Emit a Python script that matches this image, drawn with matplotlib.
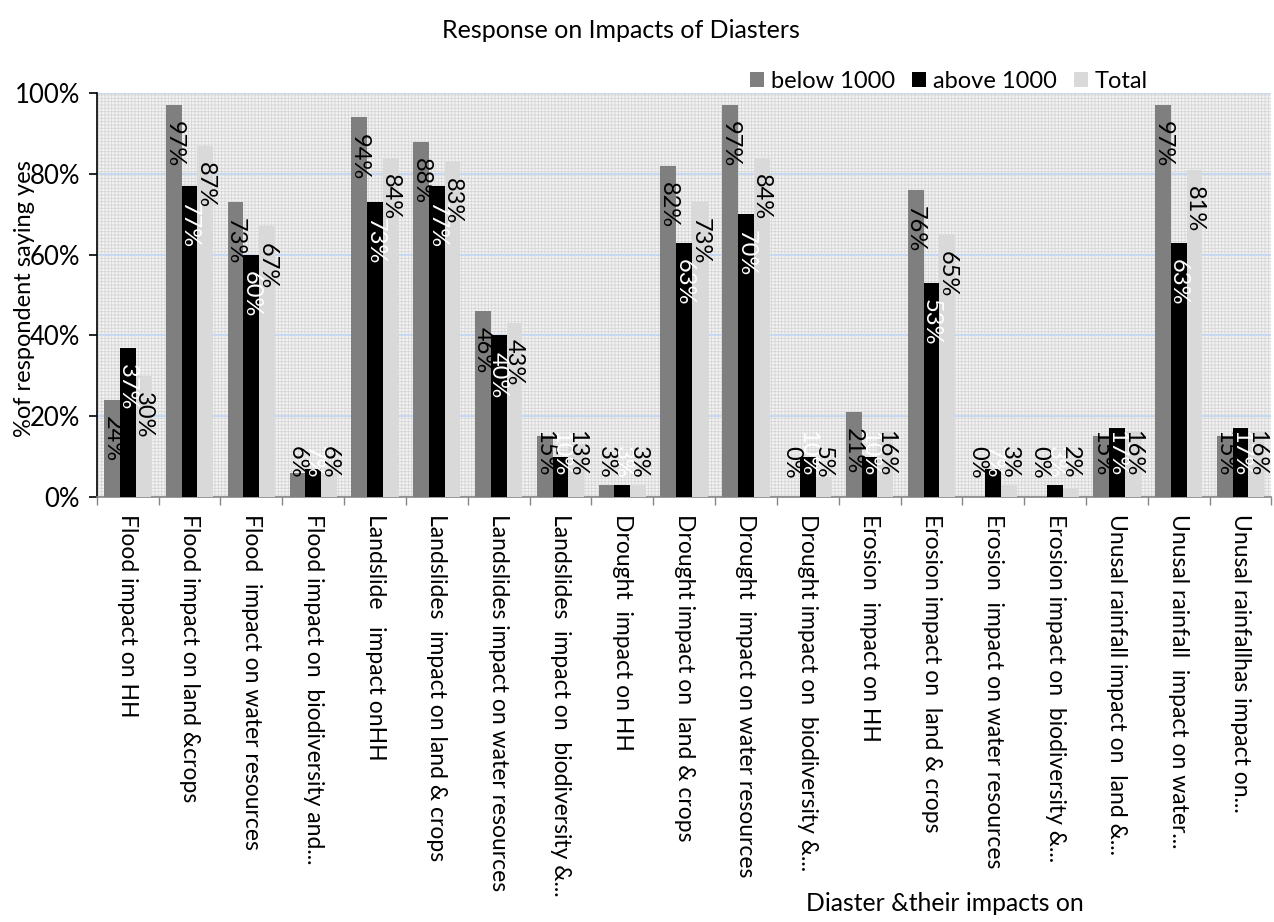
import numpy as np
import matplotlib
matplotlib.use('Agg')
import matplotlib.pyplot as plt
from matplotlib.patches import Rectangle, Patch

plt.rcParams['font.family'] = ['Lato', 'DejaVu Sans']
plt.rcParams['hatch.linewidth'] = 0.6
plt.rcParams['hatch.color'] = '#d4d4d4'

categories = ['Flood impact on HH', 'Flood impact on land &crops', 'Flood  impact on water resources',
              'Flood impact on  biodiversity and...', 'Landslide   impact onHH',
              'Landslides  impact on land & crops', 'Landslides impact on water resources',
              'Landslides  impact on  biodiversity &...', 'Drought  impact on HH',
              'Drought impact on  land & crops', 'Drought  impact on water resources',
              'Drought impact on  biodiversity &...', 'Erosion  impact on HH',
              'Erosion impact on  land & crops', 'Erosion  impact on water resources',
              'Erosion impact on  biodiversity &...', 'Unusal rainfall impact on  land &...',
              'Unusal rainfall  impact on water...', 'Unusal rainfallhas impact on...']
series_names = ['below 1000', 'above 1000', 'Total']
below = [24, 97, 73, 6, 94, 88, 46, 15, 3, 82, 97, 0, 21, 76, 0, 0, 15, 97, 15]
above = [37, 77, 60, 7, 73, 77, 40, 10, 3, 63, 70, 10, 10, 53, 7, 3, 17, 63, 17]
total = [30, 87, 67, 6, 84, 83, 43, 13, 3, 73, 84, 5, 16, 65, 3, 2, 16, 81, 16]

colors = ['#7f7f7f', '#000000', '#d9d9d9']
text_colors = ['black', 'white', 'black']

fig = plt.figure(figsize=(12.74, 9.22), dpi=100)
ax = fig.add_axes([0.076, 0.461, 0.922, 0.438])

# dotted plot-area background
ax.add_patch(Rectangle((0, 0), 1, 1, transform=ax.transAxes, facecolor='#f3f3f3',
                       hatch='+++++', edgecolor='#d6d6d6', lw=0, zorder=0))
ax.set_facecolor('none')

x = np.arange(len(categories))
w = 0.255
for j, vals in enumerate([below, above, total]):
    xs = x + (j - 1) * w
    ax.bar(xs, vals, width=w, color=colors[j], zorder=3, label=series_names[j])
    for xi, v in zip(xs, vals):
        s = '%d%%' % v
        L = 12.5 if len(s) == 3 else 8.7
        top = v - 4
        if top - L < 4:
            top = 4 + L
        ax.text(xi, top, s, rotation=-90, ha='center', va='top', fontsize=17,
                color=text_colors[j], zorder=4)

ax.set_xlim(-0.5, len(categories) - 0.5)
ax.set_ylim(0, 100)
ax.set_yticks(np.arange(0, 101, 20))
ax.set_yticklabels(['%d%%' % t for t in range(0, 101, 20)], fontsize=18.5)
ax.yaxis.grid(True, color='#c6d9f1', lw=1.5, zorder=1)
ax.set_axisbelow(True)

ax.set_xticks(x)
ax.set_xticklabels(categories, rotation=-90, fontsize=16.5, va='top', ha='center')
ax.tick_params(axis='x', which='major', length=0, pad=12)
ax.set_xticks(np.arange(-0.5, len(categories), 1), minor=True)
ax.tick_params(axis='x', which='minor', length=6, color='#868686', width=1)
ax.tick_params(axis='y', length=6, width=1.2, color='black', pad=6)

for side in ['top', 'right']:
    ax.spines[side].set_visible(False)
ax.spines['left'].set_color('black')
ax.spines['left'].set_linewidth(1.2)
ax.spines['bottom'].set_color('#868686')
ax.spines['bottom'].set_linewidth(1.2)

fig.text(0.019, 0.676, '%of respondent saying yes', rotation=90, ha='center', va='center',
         fontsize=17)

fig.text(0.487, 0.967, 'Response on Impacts of Diasters', ha='center', va='center', fontsize=18)
fig.text(0.742, 0.02, 'Diaster &their impacts on', ha='center', va='center', fontsize=17.8)

handles = [Patch(facecolor=c) for c in colors]
fig.legend(handles, series_names, loc='center', bbox_to_anchor=(0.745, 0.912), ncol=3,
           frameon=False, fontsize=17, handlelength=0.6, handleheight=0.6,
           handletextpad=0.3, columnspacing=0.7, borderpad=0)

fig.savefig('out.png', dpi=100)
